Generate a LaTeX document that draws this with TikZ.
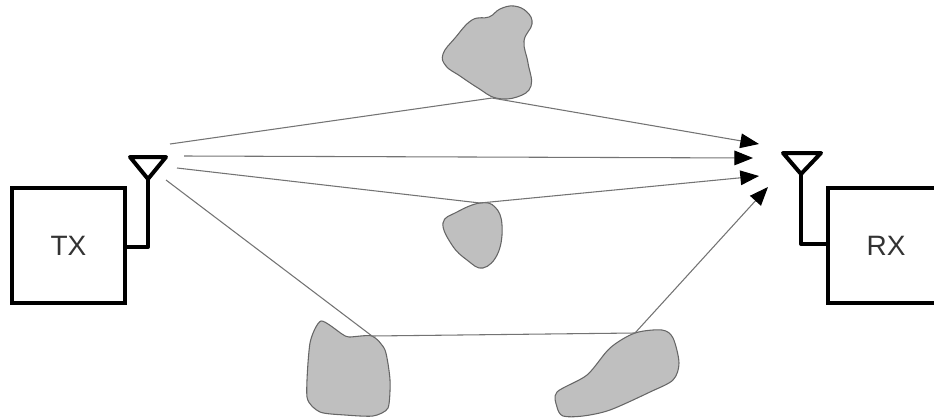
\documentclass[tikz,border=0pt]{standalone}
\usepackage{fontspec}
\setmainfont{Liberation Sans}
\usetikzlibrary{arrows.meta}
\tikzset{
 x=0.75pt,y=-0.75pt,
 unit/.style={draw=black,line width=3pt,fill=white,inner sep=0pt,font=\fontsize{21}{24}\selectfont,text=black!80},
 wire/.style={draw=black,line width=3pt,line join=round},
 blob/.style={draw=black!60,fill=black!25,line width=0.8pt,smooth cycle,tension=0.7},
 ray/.style={draw=black!55,line width=0.8pt},
 tip/.style={-{Triangle[length=14pt,width=11pt,black]}}
}
\begin{document}
\begin{tikzpicture}
\useasboundingbox (0,0) rectangle (934,418);
\clip (0,0) rectangle (934,418);
% obstacles
\draw[blob] plot coordinates {(472,20)(489,17)(500,9)(514,6)(527,12)(532,24)(524,41)(528,63)(531,86)(517,97)(496,98)(478,88)(460,76)(446,66)(443,54)(455,38)};
\draw[blob] plot coordinates {(443,223)(457,212)(480,203)(495,207)(502,225)(498,253)(483,268)(467,260)(452,245)};
\draw[blob,tension=0.4] plot coordinates {(321,321)(342,334)(349,337)(372,336)(385,350)(390,380)(388,408)(373,416)(345,415)(320,412)(307,397)(310,343)};
\draw[blob,tension=0.5] plot coordinates {(557,392)(587,375)(610,348)(635,333)(662,330)(673,338)(679,363)(673,380)(650,392)(610,410)(583,416)(563,416)(557,407)};
% path points
\coordinate (s1) at (170,144);
\coordinate (s2) at (184,156);
\coordinate (s3) at (177,168);
\coordinate (s4) at (166,180);
\coordinate (b1) at (492,98);
\coordinate (b3) at (480,203);
\coordinate (b4) at (372,336);
\coordinate (b5) at (635,333);
\coordinate (e1) at (759,144);
\coordinate (e2) at (753,158);
\coordinate (e3) at (759,176);
\coordinate (e4) at (768,187);
\draw[ray,tip] (s1) -- (b1) -- (e1);
\draw[ray,tip] (s2) -- (e2);
\draw[ray,tip] (s3) -- (b3) -- (e3);
\draw[ray,tip] (s4) -- (b4) -- (b5) -- (e4);
% units
\node[unit,minimum width=84.75pt,minimum height=86.25pt] (tx) at (68.5,245.5) {TX};
\node[unit,minimum width=120pt,minimum height=86.25pt] (rxbox) at (908,245.5) {};
\node[font=\fontsize{21}{24}\selectfont,text=black!80,inner sep=0pt] (rx) at (886,246) {RX};
% antennas
\coordinate (ta1) at (130,157);
\coordinate (ta2) at (166,157);
\coordinate (ta3) at (148,179);
\coordinate (tb) at (148,247);
\coordinate (ra1) at (783,153);
\coordinate (ra2) at (821,153);
\coordinate (ra3) at (801,174);
\coordinate (rb) at (801,244);
\draw[wire] (ta1) -- (ta2) -- (ta3) -- cycle;
\draw[wire] (ta3) -- (tb) -- (tb -| tx.east);
\draw[wire] (ra1) -- (ra2) -- (ra3) -- cycle;
\draw[wire] (ra3) -- (rb) -- (rb -| rxbox.west);
\end{tikzpicture}
\end{document}
